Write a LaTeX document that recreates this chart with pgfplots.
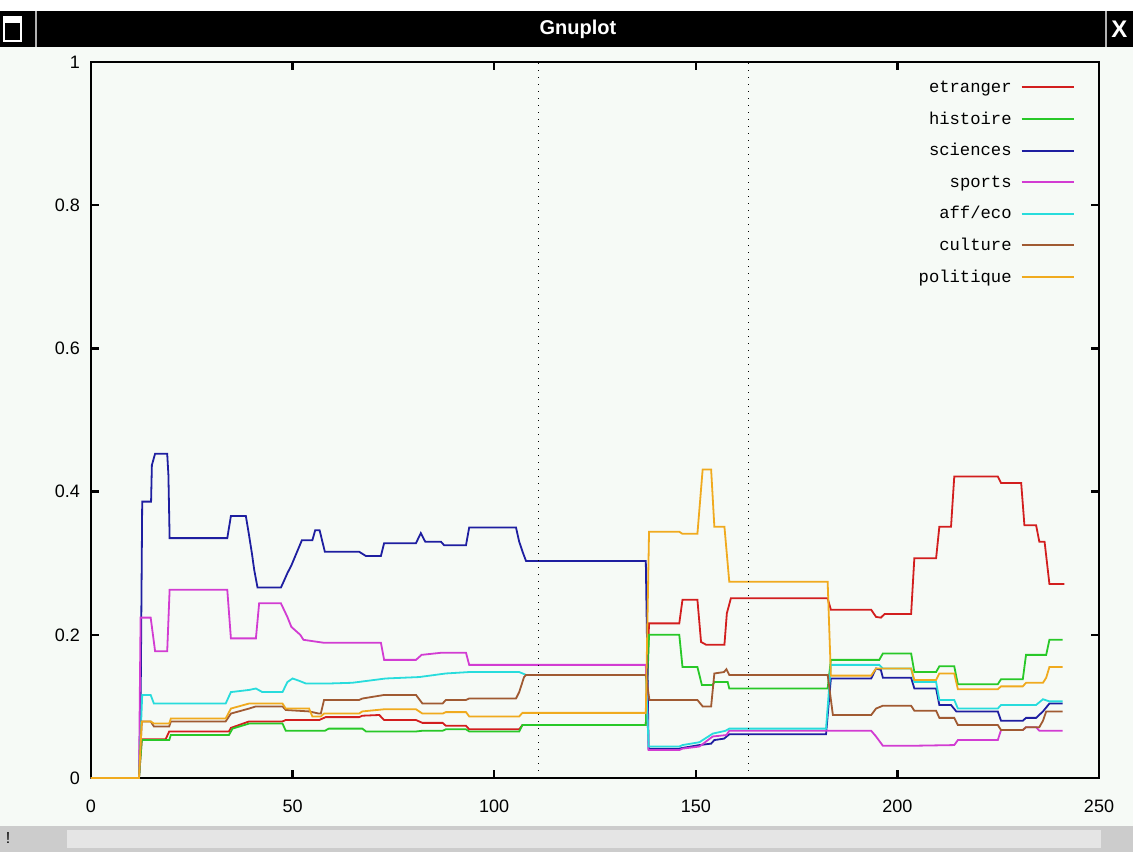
\documentclass[border=0pt]{standalone}
\usepackage{fontspec}
\setmainfont{Liberation Sans}
\newfontfamily\legfont{Liberation Mono}
\usepackage{pgfplots}
\pgfplotsset{compat=1.18}
\definecolor{cEt}{RGB}{210,30,30}
\definecolor{cHi}{RGB}{40,200,40}
\definecolor{cSc}{RGB}{30,30,160}
\definecolor{cSp}{RGB}{210,60,210}
\definecolor{cAf}{RGB}{40,220,220}
\definecolor{cCu}{RGB}{160,90,50}
\definecolor{cPo}{RGB}{240,170,30}
\definecolor{bgc}{RGB}{246,250,246}
\begin{document}
\begin{tikzpicture}
\fill[white] (-45.5pt,-37pt) rectangle (521pt,389pt);
\fill[bgc] (-45.5pt,-24pt) rectangle (521pt,365.5pt);
\fill[black] (-45.5pt,365.5pt) rectangle (521pt,383.5pt);
\draw[white, line width=0.8pt] (-43.5pt,368.5pt) rectangle (-35pt,380.5pt);
\fill[white] (-43.5pt,377.5pt) rectangle (-35pt,380.5pt);
\draw[gray!60, line width=0.8pt] (-27.5pt,365.5pt) -- (-27.5pt,383.5pt);
\draw[gray!60, line width=0.8pt] (507.5pt,365.5pt) -- (507.5pt,383.5pt);
\node[white, font=\bfseries\fontsize{10}{12}\selectfont] at (243.5pt,374.5pt) {Gnuplot};
\node[white, font=\bfseries\fontsize{12}{12}\selectfont, anchor=west, inner sep=0pt] at (510pt,374.5pt) {X};
\fill[gray!40] (-45.5pt,-37pt) rectangle (521pt,-24pt);
\fill[gray!20] (-12pt,-35pt) rectangle (505pt,-26pt);
\node[font=\fontsize{8}{8}\selectfont, inner sep=0pt] at (-41.5pt,-30pt) {!};
\begin{axis}[
  at={(0,0)}, anchor=south west, scale only axis,
  width=504pt, height=358pt,
  xmin=0, xmax=250, ymin=0, ymax=1,
  xtick={0,50,100,150,200,250},
  ytick={0,0.2,0.4,0.6,0.8,1},
  tick align=inside, major tick length=4pt,
  axis line style={line width=1.4pt},
  tick style={line width=1.2pt, black},
  /pgf/number format/assume math mode=true,
  ticklabel style={font=\fontsize{9}{10}\selectfont},
  yticklabel style={/pgf/number format/fixed, /pgf/number format/precision=1, xshift=-2pt},
  xticklabel style={yshift=-7.5pt},
  legend plot pos=right,
  legend image code/.code={\draw[#1, line width=1pt] plot coordinates {(0pt,0pt) (13pt,0pt) (26pt,0pt)};},
  legend style={at={(1,1)}, anchor=north east, xshift=-12pt, yshift=-6.5pt,
    draw=none, fill=none, inner sep=0pt,
    font=\legfont\fontsize{8.6}{10}\selectfont,
    row sep=3.8pt, column sep=2.5pt,
    nodes={text height=6.5pt, text depth=1.5pt, inner ysep=2pt},
    cells={anchor=east}},
]
\addplot[color=cEt, line width=0.9pt] coordinates {(0,0) (11.9,0) (12.6,0.054) (18.5,0.054) (19.4,0.065) (34.2,0.065) (34.7,0.070) (39.2,0.079) (47.5,0.079) (48.3,0.081) (56.6,0.081) (58.2,0.085) (66.5,0.085) (67.3,0.087) (71.5,0.088) (72.7,0.081) (80.6,0.081) (82.2,0.077) (87.2,0.077) (88,0.073) (93,0.073) (93.8,0.068) (106.2,0.068) (107,0.074) (137.6,0.074) (138.4,0.216) (145.9,0.216) (146.7,0.249) (150.4,0.249) (151.3,0.190) (152.6,0.186) (157.1,0.186) (157.7,0.230) (158.7,0.251) (182.7,0.251) (183.5,0.235) (193.5,0.235) (194.7,0.225) (195.9,0.224) (196.8,0.229) (203.4,0.229) (204.2,0.307) (209.6,0.307) (210.4,0.351) (213.3,0.351) (214.1,0.421) (224.9,0.421) (225.7,0.412) (230.7,0.412) (231.5,0.353) (234.4,0.353) (235.2,0.330) (236.5,0.330) (237.7,0.271) (241.4,0.271)};
\addlegendentry{etranger}
\addplot[color=cHi, line width=0.9pt] coordinates {(0,0) (11.9,0) (12.6,0.053) (19.4,0.053) (19.8,0.060) (34.2,0.060) (35.1,0.069) (39.2,0.076) (47.5,0.076) (48.3,0.066) (58,0.066) (59,0.069) (67.3,0.069) (68.2,0.065) (80.6,0.065) (82.2,0.066) (87.2,0.066) (88,0.068) (93,0.068) (93.8,0.065) (106.2,0.065) (107,0.074) (137.6,0.074) (138.4,0.200) (145.9,0.200) (146.7,0.155) (150.4,0.155) (151.5,0.130) (154.2,0.130) (154.6,0.134) (157.9,0.134) (158.3,0.125) (182.7,0.125) (183.5,0.165) (195.5,0.165) (196.4,0.174) (203.4,0.174) (204.2,0.148) (209.6,0.148) (210.4,0.156) (214.1,0.156) (215,0.131) (224.9,0.131) (225.7,0.138) (231.1,0.138) (231.9,0.172) (236.9,0.172) (237.7,0.193) (241,0.193)};
\addlegendentry{histoire}
\addplot[color=cSc, line width=0.9pt] coordinates {(0,0) (11.9,0) (12.3,0.095) (12.7,0.386) (14.9,0.386) (15.1,0.437) (15.9,0.453) (18.9,0.453) (19.2,0.423) (19.5,0.335) (33.8,0.335) (34.7,0.366) (38.4,0.366) (39.2,0.339) (39.9,0.314) (40.5,0.290) (41.3,0.266) (47.1,0.266) (47.6,0.272) (48.7,0.286) (49.7,0.297) (52.3,0.332) (54.9,0.332) (55.6,0.346) (56.7,0.346) (58,0.316) (66.5,0.316) (68.2,0.310) (71.9,0.310) (72.7,0.328) (80.6,0.328) (81.8,0.342) (82.9,0.330) (86.8,0.330) (87.6,0.325) (93,0.325) (93.8,0.350) (105.4,0.350) (106.2,0.330) (107.1,0.315) (107.9,0.303) (137.6,0.303) (138.3,0.041) (145.9,0.041) (146.7,0.042) (150.9,0.046) (153.8,0.048) (154.6,0.053) (157,0.055) (158.3,0.061) (182.3,0.061) (183.5,0.139) (193.5,0.139) (194.7,0.153) (195.9,0.151) (196.4,0.140) (203.4,0.140) (204.2,0.125) (209.6,0.125) (210.4,0.102) (213.3,0.102) (214.6,0.093) (224.9,0.093) (225.7,0.080) (231.1,0.080) (231.9,0.084) (234.4,0.084) (236.1,0.093) (237.7,0.104) (241,0.104)};
\addlegendentry{sciences}
\addplot[color=cSp, line width=0.9pt] coordinates {(0,0) (11.9,0) (12.3,0.224) (14.8,0.224) (15.9,0.177) (18.9,0.177) (19.5,0.263) (33.8,0.263) (34.7,0.195) (40.9,0.195) (41.7,0.244) (47.1,0.244) (48.7,0.225) (49.7,0.211) (51.9,0.200) (52.7,0.193) (57.6,0.189) (71.9,0.189) (72.7,0.165) (80.6,0.165) (82,0.172) (87,0.175) (93,0.175) (93.8,0.158) (137.6,0.158) (138.3,0.039) (145.9,0.039) (146.7,0.041) (150.9,0.044) (154.2,0.058) (157.6,0.060) (158.3,0.066) (193.5,0.066) (194.7,0.058) (196.4,0.045) (203.4,0.045) (214.1,0.046) (215,0.053) (224.9,0.053) (225.7,0.067) (231.1,0.067) (231.9,0.071) (234.4,0.071) (235.2,0.066) (241,0.066)};
\addlegendentry{sports}
\addplot[color=cAf, line width=0.9pt] coordinates {(0,0) (11.9,0) (12.7,0.116) (14.8,0.116) (15.6,0.104) (33.4,0.104) (34.7,0.120) (39.2,0.123) (40.9,0.125) (42.5,0.120) (47.5,0.120) (48.7,0.134) (50,0.139) (51.5,0.136) (53.3,0.132) (59,0.132) (64.8,0.133) (73.1,0.139) (81.4,0.141) (88,0.146) (93.8,0.148) (106.2,0.148) (107.9,0.144) (137.6,0.144) (138.3,0.044) (145.9,0.044) (146.7,0.046) (150.9,0.050) (154.2,0.062) (157.4,0.066) (158.3,0.069) (182.3,0.069) (183.5,0.158) (195.5,0.158) (196.4,0.153) (203.4,0.153) (204.2,0.134) (209.6,0.134) (210.4,0.109) (214.1,0.109) (215,0.097) (224.9,0.097) (225.7,0.102) (234.4,0.102) (236.1,0.110) (237.7,0.107) (241,0.107)};
\addlegendentry{aff/eco}
\addplot[color=cCu, line width=0.9pt] coordinates {(0,0) (11.9,0) (12.6,0.079) (14.8,0.079) (15.6,0.072) (19.4,0.072) (19.8,0.079) (33.4,0.079) (34.7,0.090) (39.2,0.097) (40.9,0.100) (47.5,0.100) (48.3,0.095) (54.1,0.093) (56.5,0.090) (57,0.090) (57.8,0.109) (66.5,0.109) (67.3,0.111) (72.7,0.116) (80.6,0.116) (82.2,0.104) (87.2,0.104) (88,0.109) (93,0.109) (93.8,0.111) (105.4,0.111) (106.2,0.120) (107.4,0.141) (107.9,0.144) (137.6,0.144) (138.5,0.109) (150.4,0.109) (151.7,0.100) (153.8,0.100) (154.6,0.146) (157,0.148) (157.6,0.152) (158.3,0.144) (182.7,0.144) (184,0.088) (193.5,0.088) (194.7,0.097) (196.4,0.101) (203.4,0.101) (204.2,0.094) (209.6,0.094) (210.4,0.084) (214.1,0.084) (215,0.074) (224.9,0.074) (225.7,0.067) (231.1,0.067) (231.9,0.071) (235.2,0.071) (236.1,0.080) (236.9,0.093) (241,0.093)};
\addlegendentry{culture}
\addplot[color=cPo, line width=0.9pt] coordinates {(0,0) (11.9,0) (12.6,0.079) (14.8,0.079) (15.6,0.076) (19.4,0.076) (19.8,0.083) (33.4,0.083) (34.7,0.097) (39.2,0.104) (47.5,0.104) (48.3,0.097) (54.1,0.097) (54.9,0.086) (57,0.086) (57.8,0.090) (66.5,0.090) (67.3,0.093) (72.7,0.096) (80.6,0.096) (82.2,0.090) (87.2,0.090) (88,0.092) (93,0.092) (93.8,0.086) (106.2,0.086) (107,0.091) (137.6,0.091) (138.4,0.344) (145.9,0.344) (146.7,0.341) (150.4,0.341) (151.7,0.431) (153.8,0.431) (154.6,0.351) (157.1,0.351) (158.3,0.274) (182.7,0.274) (183.5,0.143) (193.5,0.143) (194.7,0.153) (203.4,0.153) (204.2,0.137) (209.6,0.137) (210.4,0.146) (214.1,0.146) (215,0.124) (224.9,0.124) (225.7,0.128) (231.1,0.128) (231.9,0.133) (236.1,0.133) (236.9,0.140) (237.7,0.155) (241,0.155)};
\addlegendentry{politique}
\addplot[black, line width=0.7pt, dash pattern=on 0.7pt off 2.8pt, forget plot] coordinates {(111,0) (111,1)};
\addplot[black, line width=0.7pt, dash pattern=on 0.7pt off 2.8pt, forget plot] coordinates {(163,0) (163,1)};
\end{axis}
\end{tikzpicture}
\end{document}
